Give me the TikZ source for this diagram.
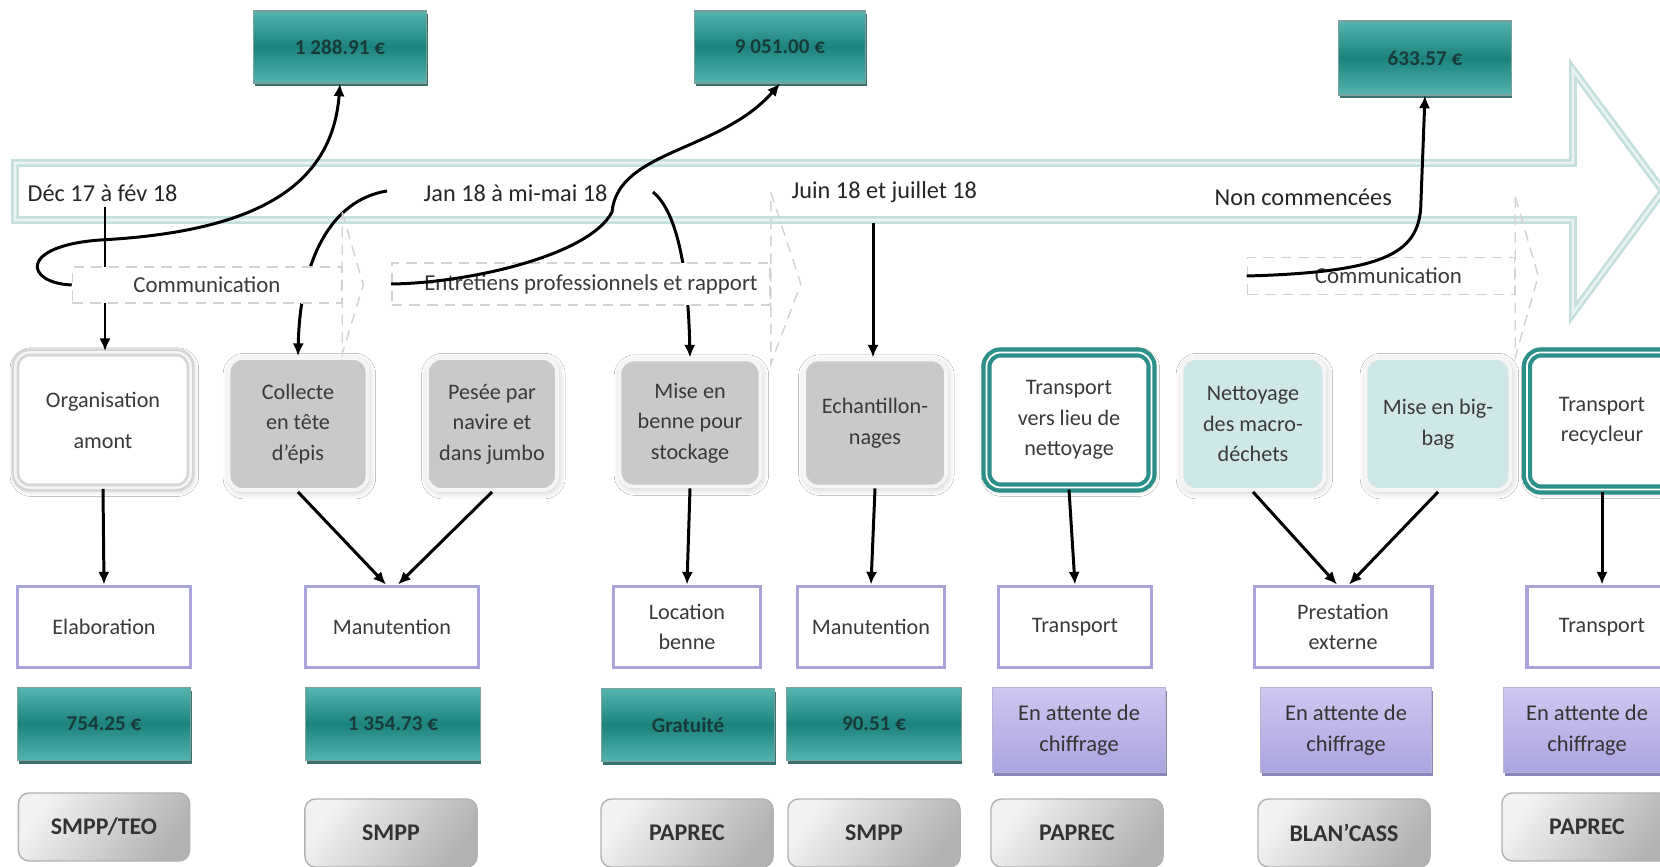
\documentclass[tikz,border=0pt]{standalone}
\usepackage{fontspec}
\setmainfont{Carlito}
\usepackage{tikz}
\usetikzlibrary{arrows.meta, positioning, calc, shadows, shadows.blur}
\definecolor{tealdark}{HTML}{1B837D}
\definecolor{teallight}{HTML}{55B4AF}
\definecolor{tealedge}{HTML}{23625E}
\definecolor{tealtext}{HTML}{173B3A}
\definecolor{tealborder}{HTML}{2D8F89}
\definecolor{tealpale}{HTML}{CFE8E7}
\definecolor{bandcolor}{HTML}{C3E0DD}
\definecolor{lavborder}{HTML}{A9A4D9}
\definecolor{lavtop}{HTML}{CDC8F0}
\definecolor{lavbottom}{HTML}{ABA4DF}
\definecolor{lavedge}{HTML}{6F68A8}
\definecolor{procfill}{HTML}{C9C9C9}
\definecolor{txtgray}{HTML}{3A3A3A}

\begin{document}
\begin{tikzpicture}[
    x=0.01cm, y=-0.01cm,
    txt/.style={font=\fontsize{6.3}{8.7}\selectfont, text=txtgray, align=center, inner sep=0pt},
    datelbl/.style={font=\fontsize{6.9}{8}\selectfont, text=black!85, inner sep=0pt},
    band/.style={draw=bandcolor, double=bandcolor!35, line width=0.75pt, double distance=0.75pt, line join=miter},
    chev/.style={txt, font=\fontsize{6.5}{8}\selectfont, rectangle, draw=gray!35, fill=white, dash pattern=on 3pt off 2pt},
    chevhead/.style={draw=gray!35, dash pattern=on 3pt off 2pt},
    proc/.style={txt, rectangle, rounded corners=4pt, blur shadow={shadow xshift=0.4pt, shadow yshift=-0.6pt, shadow blur steps=5, shadow opacity=25}},
    procwhite/.style={proc, fill=white, draw=gray!32, line width=0.8pt, double=gray!6, double distance=0.7pt},
    procgray/.style={proc, fill=procfill, draw=gray!8, line width=1.1pt},
    procpale/.style={proc, fill=tealpale, draw=gray!8, line width=1.1pt},
    procteal/.style={proc, fill=white, draw=tealborder, line width=1.2pt, double=white, double distance=0.5pt},
    cat/.style={txt, rectangle, draw=lavborder, line width=1.1pt, fill=white, minimum height=0.81cm},
    cost/.style={txt, font=\fontsize{6}{7}\selectfont\bfseries, text=tealtext, top color=teallight, bottom color=teallight, middle color=tealdark, draw=tealedge!60, line width=0.3pt, minimum height=0.73cm, drop shadow={shadow xshift=0.3pt, shadow yshift=-0.9pt, fill=tealedge, opacity=0.9}},
    wait/.style={txt, font=\fontsize{6.4}{8.8}\selectfont, text=black!80, top color=lavtop, bottom color=lavbottom, draw=lavedge!50, line width=0.3pt, minimum height=0.85cm, drop shadow={shadow xshift=0.3pt, shadow yshift=-0.9pt, fill=lavedge, opacity=0.8}},
    firm/.style={txt, font=\fontsize{6.8}{8}\selectfont\bfseries, text=black!80, rounded corners=3pt, draw=gray!60, line width=0.4pt, top color=gray!10, bottom color=gray!60, shading angle=55, minimum width=1.72cm, minimum height=0.68cm},
    arr/.style={-{Latex[length=3.6pt,width=3.2pt]}, line width=0.85pt, black}
]
\useasboundingbox (0,0) rectangle (1660,867);
\clip (0,0) rectangle (1660,867);
\fill[white] (0,0) rectangle (1660,867);

% -- TIMELINE (big arrow) --
\draw[band] (15,163) -- (1573,163) -- (1573,70) -- (1663,191) -- (1573,313) -- (1573,220) -- (15,220) -- cycle;

\node[datelbl, anchor=west] (dec) at (27,193) {Déc 17 à fév 18};
\node[datelbl, anchor=west] (jan) at (423,193) {Jan 18 à mi-mai 18};
\node[datelbl, anchor=west] (juin) at (791,192) {Juin 18 et juillet 18};
\node[datelbl, anchor=west] (nonc) at (1214,197) {Non commencées};

% -- TOP COSTS --
\node[cost, minimum width=1.73cm, minimum height=0.72cm] (tot1) at (340,47) {1 288.91 €};
\node[cost, minimum width=1.71cm, minimum height=0.72cm] (tot2) at (780,47) {9 051.00 €};
\node[cost, minimum width=1.72cm, minimum height=0.74cm] (tot3) at (1425,58) {633.57 €};

% -- ROW 1: ACTIONS --
\node[procwhite, minimum width=1.75cm, minimum height=1.35cm] (orga) at (103,420) {Organisation\\[3pt]amont};
\node[procgray, minimum width=1.39cm, minimum height=1.32cm] (collecte) at (298,424) {Collecte\\en tête\\d'épis};
\node[procgray, minimum width=1.30cm, minimum height=1.32cm] (pesee) at (492,424) {Pesée par\\navire et\\dans jumbo};
\node[procgray, minimum width=1.41cm, minimum height=1.27cm] (benne) at (690,423) {Mise en\\benne pour\\stockage};
\node[procgray, minimum width=1.42cm, minimum height=1.27cm] (echant) at (875,423) {Echantillon-\\nages};
\node[procteal, minimum width=1.65cm, minimum height=1.35cm] (vers) at (1069,420) {Transport\\vers lieu de\\nettoyage};
\node[procpale, minimum width=1.43cm, minimum height=1.32cm] (nettoy) at (1253,424) {Nettoyage\\des macro-\\déchets};
\node[procpale, minimum width=1.45cm, minimum height=1.32cm] (bigbag) at (1438,424) {Mise en big-\\bag};
\node[procteal, minimum width=1.50cm, minimum height=1.37cm] (recycl) at (1602,421) {Transport\\recycleur};

% links from the periods (drawn under the chevrons)
\coordinate (dec0) at (105,207);
\coordinate (jan0) at (387,191);
\coordinate (mai0) at (653,192);
\coordinate (juin0) at (873,223);
\draw[arr] (dec0) -- (dec0 |- orga.north);
\draw[arr] (jan0) .. controls (330,200) and (300,262) .. (collecte.north);
\draw[arr] (mai0) .. controls (675,210) and (688,262) .. (benne.north);
\draw[arr] (juin0) -- (juin0 |- echant.north);

% -- CHEVRONS --
\node[chev, minimum width=2.69cm, minimum height=0.36cm] (com1) at (207,285) {Communication};
\draw[chevhead] ($(com1.north east)+(0,-54)$) -- ($(com1.east)+(21,0)$) -- ($(com1.south east)+(0,50)$) -- cycle;
\node[chev, minimum width=3.78cm, minimum height=0.42cm] (entr) at (581,284) {\hspace*{0.2cm}Entretiens professionnels et rapport};
\draw[chevhead] ($(entr.north east)+(0,-70)$) -- ($(entr.east)+(30,0)$) -- ($(entr.south east)+(0,58)$) -- cycle;
\node[chev, minimum width=2.67cm, minimum height=0.37cm] (com3) at (1381,276) {\hspace*{0.15cm}Communication};
\draw[chevhead] ($(com3.north east)+(0,-60)$) -- ($(com3.east)+(23,0)$) -- ($(com3.south east)+(0,62)$) -- cycle;

\draw[arr] (com1.west) .. controls (25,283) and (18,246) .. (100,240) .. controls (250,232) and (332,190) .. (tot1.south);
\draw[arr] (entr.west) .. controls (470,283) and (590,255) .. (612,212) .. controls (618,150) and (720,152) .. (tot2.south);
\draw[arr] (com3.west) .. controls (1390,272) and (1421,252) .. (1421,200) -- (tot3.south);

% -- ROW 2: COST ITEMS --
\node[cat, minimum width=1.73cm] (elab) at (104,627) {Elaboration};
\node[cat, minimum width=1.73cm] (manut1) at (392,627) {Manutention};
\node[cat, minimum width=1.47cm] (location) at (687,627) {Location\\benne};
\node[cat, minimum width=1.47cm] (manut2) at (871,627) {Manutention};
\node[cat, minimum width=1.53cm] (trans1) at (1075,627) {Transport};
\node[cat, minimum width=1.77cm] (presta) at (1343,627) {Prestation\\externe};
\node[cat, minimum width=1.50cm] (trans2) at (1602,627) {Transport};

\draw[arr] (orga.south) -- (elab.north);
\draw[arr] (collecte.south) -- ([xshift=-0.06cm]manut1.north);
\draw[arr] (pesee.south) -- ([xshift=0.06cm]manut1.north);
\draw[arr] (benne.south) -- (location.north);
\draw[arr] (echant.south) -- (manut2.north);
\draw[arr] (vers.south) -- (trans1.north);
\draw[arr] (nettoy.south) -- ([xshift=-0.06cm]presta.north);
\draw[arr] (bigbag.south) -- ([xshift=0.06cm]presta.north);
\draw[arr] (recycl.south) -- (trans2.north);

% -- ROW 3: AMOUNTS --
\node[cost, minimum width=1.73cm] (cout1) at (104,724) {754.25 €};
\node[cost, minimum width=1.74cm] (cout2) at (393,724) {1 354.73 €};
\node[cost, minimum width=1.73cm] (cout3) at (688,725) {Gratuité};
\node[cost, minimum width=1.74cm] (cout4) at (874,724) {90.51 €};
\node[wait, minimum width=1.73cm] (cout5) at (1079,730) {En attente de\\chiffrage};
\node[wait, minimum width=1.71cm] (cout6) at (1346,730) {En attente de\\chiffrage};
\node[wait, minimum width=1.66cm] (cout7) at (1587,730) {En attente de\\chiffrage};

% -- ROW 4: PROVIDERS --
\node[firm, minimum width=1.71cm] (pres1) at (104,827) {SMPP/TEO};
\node[firm] (pres2) at (391,833) {SMPP};
\node[firm] (pres3) at (687,833) {PAPREC};
\node[firm] (pres4) at (874,833) {SMPP};
\node[firm] (pres5) at (1077,833) {PAPREC};
\node[firm] (pres6) at (1344,833) {BLAN'CASS};
\node[firm, minimum width=1.70cm] (pres7) at (1587,827) {PAPREC};

\end{tikzpicture}
\end{document}
